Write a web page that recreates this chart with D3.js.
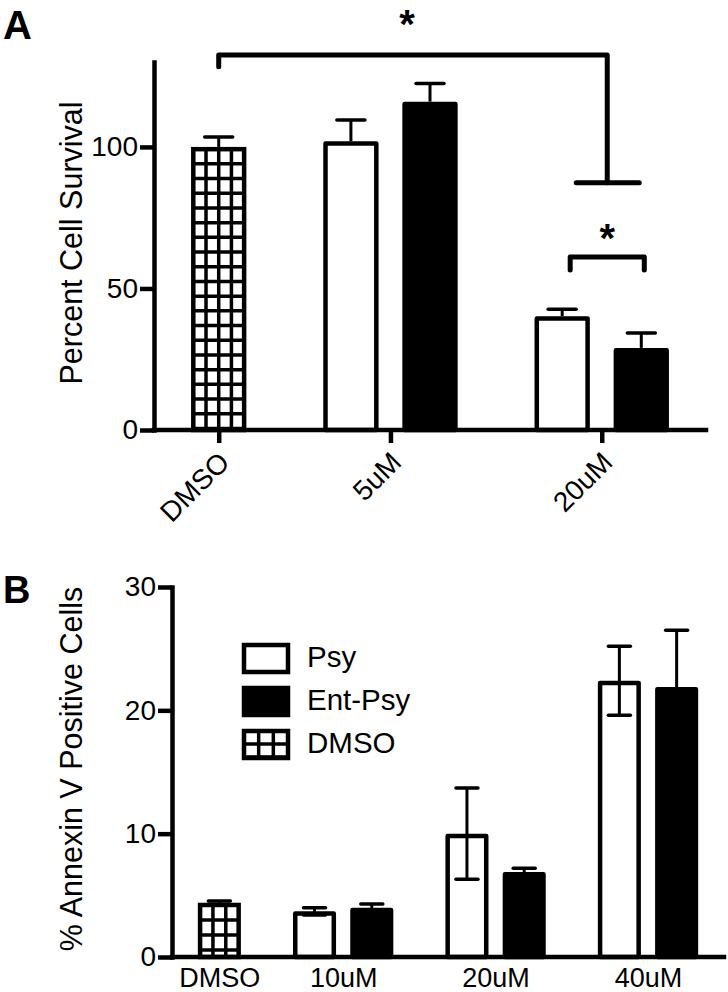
<!DOCTYPE html>
<html><head><meta charset="utf-8">
<script src="https://cdn.jsdelivr.net/npm/d3@7"></script>
<style>body{margin:0;background:#fff}svg{display:block}</style>
</head><body><svg id="c" width="728" height="992"></svg>
<script>
// ---------- Panel A data (Percent Cell Survival) ----------
const catsA = ["DMSO", "5uM", "20uM"];
const treatCatsA = ["5uM", "20uM"];
const dmsoA = [100];
const dmsoErrA = [3.5];
const psyA = [102, 40.2];
const psyErrA = [7.5, 2.5];
const entA = [116, 29];
const entErrA = [6.4, 5.3];
const yTicksA = [0, 50, 100];
const yMaxA = 130;

// ---------- Panel B data (% Annexin V Positive Cells) ----------
const catsB = ["DMSO", "10uM", "20uM", "40uM"];
const treatCatsB = ["10uM", "20uM", "40uM"];
const dmsoB = [4.4];
const dmsoErrB = [0.15];
const psyB = [3.7, 10.0, 22.4];
const psyErrB = [0.3, 3.7, 2.8];
const entB = [4.0, 6.9, 21.9];
const entErrB = [0.3, 0.3, 4.6];
const yTicksB = [0, 10, 20, 30];
const yMaxB = 30;

const legendItems = ["Psy", "Ent-Psy", "DMSO"];

const FONT = "'Liberation Sans', Arial, Helvetica, sans-serif";
const SW = 4.5;
const svg = d3.select("#c");

function buildGroups(cats, dmso, dmsoErr, treatCats, psy, psyErr, ent, entErr) {
  return cats.map(c => {
    if (c === "DMSO") return {cat: c, bars: [{s: "dmso", v: dmso[0], e: dmsoErr[0]}]};
    const i = treatCats.indexOf(c);
    return {cat: c, bars: [{s: "psy", v: psy[i], e: psyErr[i]}, {s: "ent", v: ent[i], e: entErr[i]}]};
  });
}
function layout(groups, edge, inner, gap) {
  let u = edge;
  groups.forEach((g, gi) => {
    const start = u;
    g.bars.forEach((b, bi) => { b.u0 = u; u += 1; if (bi < g.bars.length - 1) u += inner; });
    g.uc = (start + u) / 2;
    u += (gi < groups.length - 1) ? gap : edge;
  });
  return u;
}
function hatchRect(g, x0, y0, w, h, ncols, rowStep) {
  const gg = g.append("g");
  gg.append("rect").attr("x", x0).attr("y", y0).attr("width", w).attr("height", h).attr("fill", "#fff");
  for (let i = 1; i < ncols; i++) {
    const xx = x0 + i * w / ncols;
    gg.append("line").attr("x1", xx).attr("x2", xx).attr("y1", y0).attr("y2", y0 + h)
      .attr("stroke", "#000").attr("stroke-width", 3.5);
  }
  for (let yy = y0 + rowStep; yy < y0 + h; yy += rowStep) {
    gg.append("line").attr("x1", x0).attr("x2", x0 + w).attr("y1", yy).attr("y2", yy)
      .attr("stroke", "#000").attr("stroke-width", 3.5);
  }
  gg.append("rect").attr("x", x0).attr("y", y0).attr("width", w).attr("height", h)
    .attr("fill", "none").attr("stroke", "#000").attr("stroke-width", SW);
}

function panel(opts) {
  const {groups, x0, x1, yTop, yBot, yMax, yTicks, edge, inner, gap, capW, bothErr, ncols} = opts;
  const total = layout(groups, edge, inner, gap);
  const xu = d3.scaleLinear().domain([0, total]).range([x0, x1]);
  const bw = xu(1) - xu(0);
  const y = d3.scaleLinear().domain([0, yMax]).range([yBot, yTop]);
  const g = svg.append("g");

  groups.forEach(gr => gr.bars.forEach(b => {
    const bx = xu(b.u0) + SW / 2, by = y(b.v) + SW / 2, w = bw - SW, h = y(0) - y(b.v) - SW / 2;
    if (b.s === "dmso") hatchRect(g, bx, by, w, h, ncols, opts.rowStep);
    else g.append("rect").attr("x", bx).attr("y", by).attr("width", w).attr("height", h)
      .attr("fill", b.s === "ent" ? "#000" : "#fff").attr("stroke", "#000").attr("stroke-width", SW)
      .attr("stroke-linejoin", "round");
    const cx = xu(b.u0 + 0.5);
    const lo = bothErr ? b.v - b.e : b.v;
    g.append("line").attr("x1", cx).attr("x2", cx).attr("y1", y(lo)).attr("y2", y(b.v + b.e))
      .attr("stroke", "#000").attr("stroke-width", 3);
    g.append("line").attr("x1", cx - capW / 2).attr("x2", cx + capW / 2)
      .attr("y1", y(b.v + b.e)).attr("y2", y(b.v + b.e)).attr("stroke", "#000").attr("stroke-width", 3.5)
      .attr("stroke-linecap", "round");
    if (bothErr) g.append("line").attr("x1", cx - capW / 2).attr("x2", cx + capW / 2)
      .attr("y1", y(lo)).attr("y2", y(lo)).attr("stroke", "#000").attr("stroke-width", 3.5)
      .attr("stroke-linecap", "round");
  }));

  const ya = g.append("g").attr("transform", `translate(${x0},0)`)
    .call(d3.axisLeft(y).tickValues(yTicks).tickSize(14).tickSizeOuter(0).tickPadding(2).tickFormat(d3.format("d")));
  ya.select(".domain").attr("stroke-width", SW).attr("stroke-linecap", "square");
  ya.selectAll(".tick line").attr("stroke-width", SW);
  ya.selectAll(".tick text").attr("font-family", FONT).attr("font-size", 28).attr("fill", "#000");

  g.append("line").attr("x1", x0).attr("x2", x1).attr("y1", yBot).attr("y2", yBot)
    .attr("stroke", "#000").attr("stroke-width", SW).attr("stroke-linecap", "square");

  const xc = d3.scaleOrdinal().domain(groups.map(d => d.cat)).range(groups.map(d => xu(d.uc)));
  return {xu, y, xc, g, bw};
}

// ---------- Panel A ----------
const groupsA = buildGroups(catsA, dmsoA, dmsoErrA, treatCatsA, psyA, psyErrA, entA, entErrA);
const A = panel({groups: groupsA, x0: 154, x1: 706, yTop: 62, yBot: 430, yMax: yMaxA, yTicks: yTicksA,
  edge: 0.67, inner: 0.43, gap: 1.39, capW: 28, bothErr: false, ncols: 4, rowStep: 14.7});
const xaA = A.g.append("g").attr("transform", "translate(0,430)")
  .call(d3.axisBottom(A.xc).tickSize(13).tickSizeOuter(0));
xaA.select(".domain").remove();
xaA.selectAll(".tick line").attr("stroke-width", SW);
xaA.selectAll(".tick text").attr("font-family", FONT).attr("font-size", 28).attr("fill", "#000")
  .attr("text-anchor", "end").attr("dy", 0).attr("y", 0)
  .attr("transform", "translate(12,34) rotate(-45)");

// significance brackets (panel A)
const cA = {};
groupsA.forEach(gr => gr.bars.forEach(b => { cA[gr.cat + "_" + b.s] = A.xu(b.u0 + 0.5); }));
const sL = cA["20uM_psy"] + 8, sR = cA["20uM_ent"] + 3, sMid = (sL + sR) / 2;
const br = A.g.append("g").attr("fill", "none").attr("stroke", "#000").attr("stroke-width", 5)
  .attr("stroke-linecap", "round").attr("stroke-linejoin", "round");
br.append("path").attr("d", `M${cA["DMSO_dmso"]},${A.y(128.3)} V${A.y(132.5)} H${sMid} V${A.y(87.3)}`);
br.append("path").attr("d", `M${sMid - 31},${A.y(87.3)} H${sMid + 32}`);
br.append("path").attr("d", `M${sL},${A.y(56.5)} V${A.y(61.1)} H${sR} V${A.y(56.5)}`);
A.g.append("text").attr("x", (cA["DMSO_dmso"] + sMid) / 2 - 6).attr("y", 38).attr("text-anchor", "middle")
  .attr("font-family", FONT).attr("font-weight", "bold").attr("font-size", 40).text("*");
A.g.append("text").attr("x", sMid).attr("y", 252).attr("text-anchor", "middle")
  .attr("font-family", FONT).attr("font-weight", "bold").attr("font-size", 40).text("*");

svg.append("text").attr("transform", "translate(82,243) rotate(-90)").attr("text-anchor", "middle")
  .attr("font-family", FONT).attr("font-size", 30.5).text("Percent Cell Survival");
svg.append("text").attr("x", 3).attr("y", 39).attr("font-family", FONT).attr("font-weight", "bold")
  .attr("font-size", 40).text("A");

// ---------- Panel B ----------
const groupsB = buildGroups(catsB, dmsoB, dmsoErrB, treatCatsB, psyB, psyErrB, entB, entErrB);
const B = panel({groups: groupsB, x0: 172, x1: 724, yTop: 587, yBot: 957, yMax: yMaxB, yTicks: yTicksB,
  edge: 0.6, inner: 0.33, gap: 1.21, capW: 22, bothErr: true, ncols: 3, rowStep: 15});
const xaB = B.g.append("g").attr("transform", "translate(0,957)")
  .call(d3.axisBottom(B.xc).tickSize(0).tickPadding(11).tickSizeOuter(0));
xaB.select(".domain").remove();
xaB.selectAll(".tick text").attr("font-family", FONT).attr("font-size", 27).attr("fill", "#000");

svg.append("text").attr("transform", "translate(82,769) rotate(-90)").attr("text-anchor", "middle")
  .attr("font-family", FONT).attr("font-size", 30.5).text("% Annexin V Positive Cells");
svg.append("text").attr("x", 3).attr("y", 603).attr("font-family", FONT).attr("font-weight", "bold")
  .attr("font-size", 38).text("B");

// legend
const lg = svg.append("g");
legendItems.forEach((name, i) => {
  const ly = 643 + i * 43;
  if (name === "DMSO") hatchRect(lg, 244, ly + 2, 44, 27, 3, 13);
  else lg.append("rect").attr("x", 244).attr("y", ly + 2).attr("width", 44).attr("height", 27)
    .attr("fill", name === "Psy" ? "#fff" : "#000").attr("stroke", "#000").attr("stroke-width", SW);
  lg.append("text").attr("x", 307).attr("y", ly + 24).attr("font-family", FONT).attr("font-size", 29.5)
    .text(name);
});
</script>
</body></html>
